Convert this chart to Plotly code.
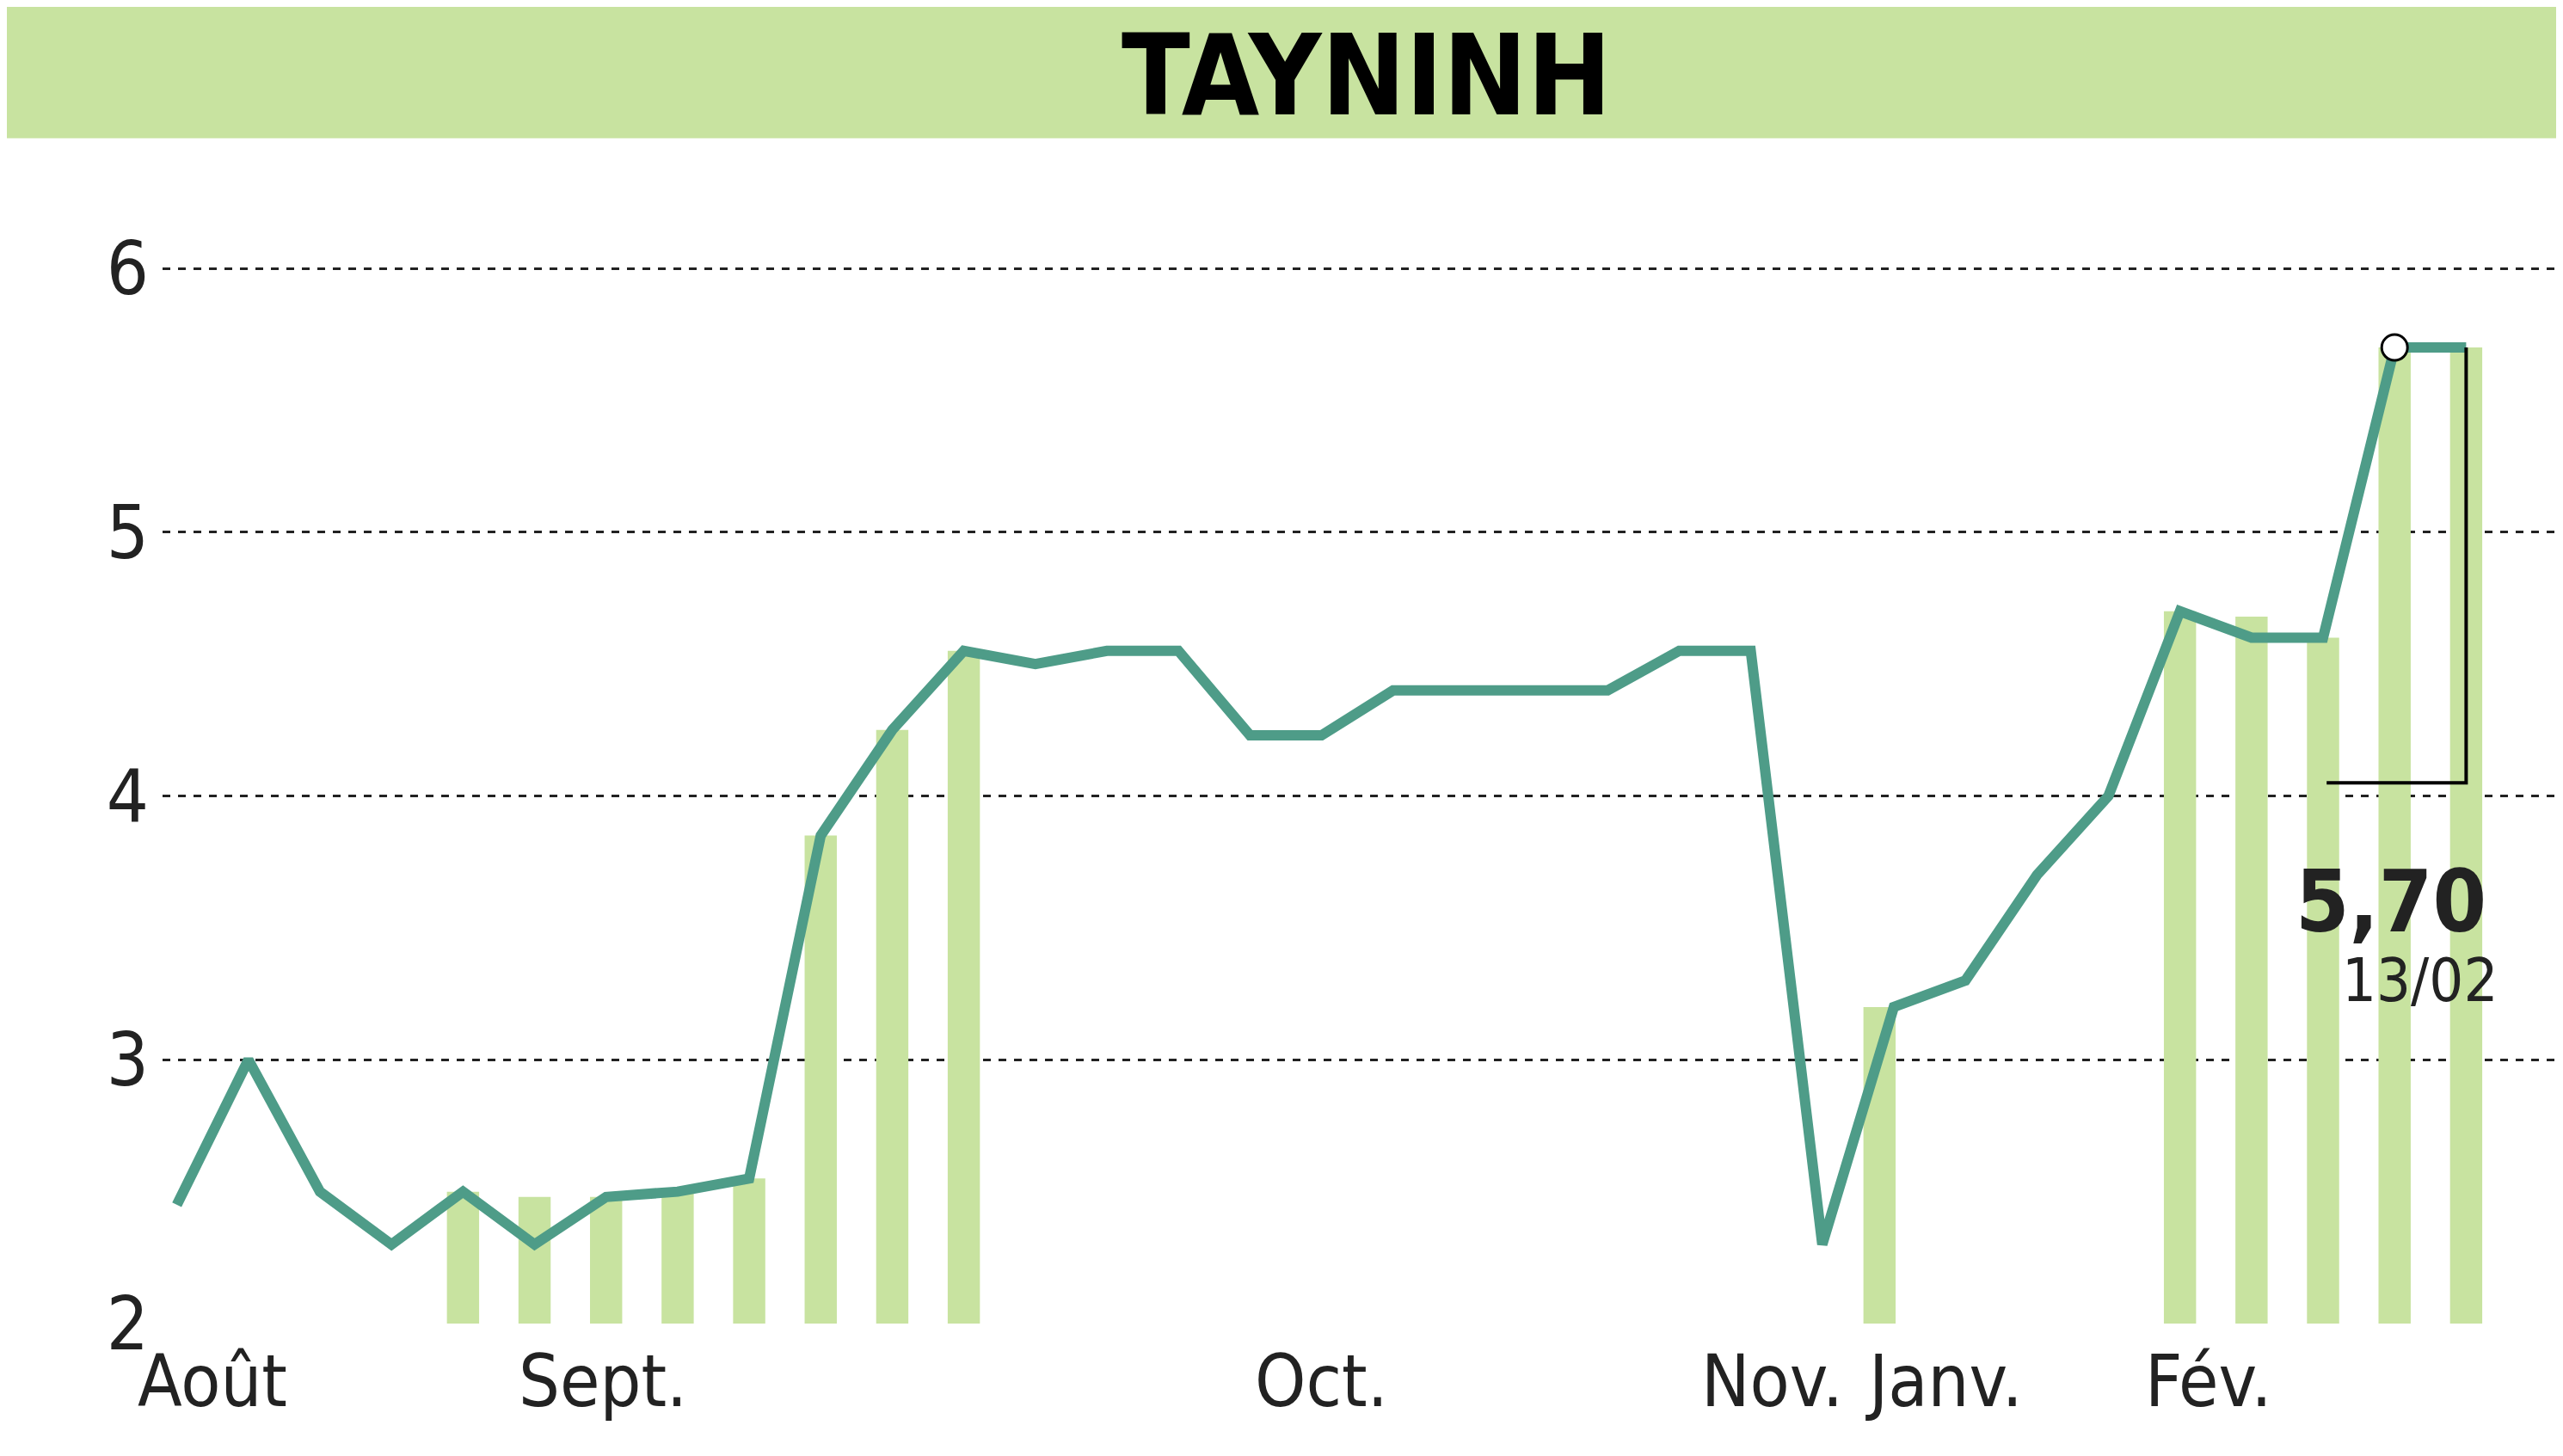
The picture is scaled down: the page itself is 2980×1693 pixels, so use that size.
import plotly.graph_objects as go

# price series (one point per session)
prices = [2.45, 3.0, 2.5, 2.3, 2.5, 2.3, 2.48, 2.5, 2.55, 3.85, 4.25, 4.55, 4.5,
          4.55, 4.55, 4.23, 4.23, 4.4, 4.4, 4.4, 4.4, 4.55, 4.55, 2.3, 3.2, 3.3,
          3.7, 4.0, 4.7, 4.6, 4.6, 5.7, 5.7]
# volume bars (index, height)
bar_idx = [4, 5, 6, 7, 8, 9, 10, 11, 23.8, 28, 29, 30, 31, 32]
bar_val = [2.5, 2.48, 2.48, 2.5, 2.55, 3.85, 4.25, 4.55, 3.2, 4.7, 4.68, 4.6, 5.7, 5.7]
month_labels = ["Août", "Sept.", "Oct.", "Nov.", "Janv.", "Fév."]
month_pos = [0.5, 5.95, 16.0, 22.3, 24.7, 28.4]
last_value = "5,70"
last_date = "13/02"

FONT = "DejaVu Sans Condensed, DejaVu Sans, sans-serif"
LINE = "#4e9c88"
BAR = "#c8e3a0"


def f(size, color="#222"):
    return dict(family=FONT, size=size, color=color)


fig = go.Figure()
fig.add_trace(go.Bar(x=bar_idx, y=[v - 2 for v in bar_val], base=2, width=0.45,
                     marker_color=BAR, marker_line_width=0, hoverinfo="skip"))
fig.add_trace(go.Scatter(x=list(range(len(prices))), y=prices, mode="lines",
                         line=dict(color=LINE, width=12), hoverinfo="skip"))
fig.add_trace(go.Scatter(x=[31], y=[prices[31]], mode="markers",
                         marker=dict(size=30, color="white", line=dict(color="black", width=3))))
# bracket to the last-value label
fig.add_trace(go.Scatter(x=[32, 32, 30.05], y=[5.7, 4.05, 4.05], mode="lines",
                         line=dict(color="black", width=4), hoverinfo="skip"))

fig.add_annotation(x=30.95, y=3.6, text="<b>" + last_value + "</b>", showarrow=False,
                   font=f(100))
fig.add_annotation(x=31.35, y=3.3, text=last_date, showarrow=False, font=f(70))
for lab, pos in zip(month_labels, month_pos):
    fig.add_annotation(x=pos, y=0, yref="paper", yshift=-118, text=lab, showarrow=False,
                       font=f(84))

fig.add_annotation(xref="paper", yref="paper", x=0.5, y=1.0, yshift=210, text="<b>TAYNINH</b>",
                   showarrow=False, font=f(130, "black"))

fig.update_layout(
    width=2980, height=1693, showlegend=False, plot_bgcolor="white", paper_bgcolor="white",
    margin=dict(l=181, r=0, t=212, b=162),
    shapes=[dict(type="rect", xref="paper", yref="paper", x0=-0.1, x1=1.0,
                 y0=1.045, y1=1.25, fillcolor=BAR, line_width=0, layer="below")],
    xaxis=dict(range=[-0.2, 33.45], showgrid=False, showticklabels=False, zeroline=False),
    yaxis=dict(range=[2, 6.3], tickvals=[2, 3, 4, 5, 6], showgrid=True, gridcolor="#222",
               griddash="dash", gridwidth=3, zeroline=False, ticks="", ticklabelstandoff=15,
               tickfont=f(86)),
)
fig.write_html("out.html")
